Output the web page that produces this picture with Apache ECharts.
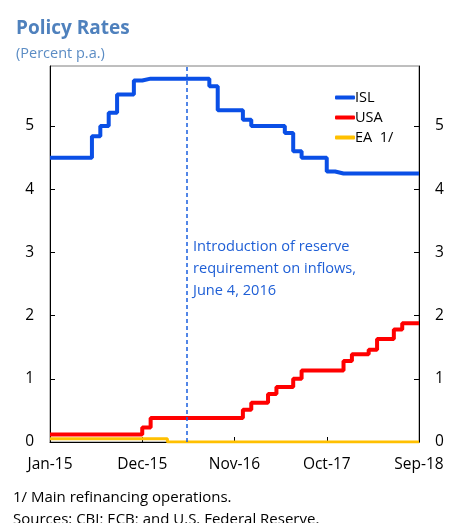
<!DOCTYPE html>
<html>
<head>
<meta charset="utf-8">
<script src="https://cdn.jsdelivr.net/npm/echarts@6/dist/echarts.min.js"></script>
<style>
  html, body { margin: 0; padding: 0; background: #fff; }
  #chart { width: 457px; height: 523px; }
</style>
</head>
<body>
<div id="chart"></div>
<script>
// month index 0 = Jan-15 ... 44 = Sep-18, monthly averages
const xLabels = ["Jan-15", "Dec-15", "Nov-16", "Oct-17", "Sep-18"];

const isl = [
  4.5, 4.5, 4.5, 4.5, 4.5, 4.84, 5.0, 5.21, 5.5, 5.5, 5.72,
  5.75, 5.75, 5.75, 5.75, 5.75, 5.75, 5.75, 5.75, 5.63, 5.25, 5.25, 5.25,
  5.1, 5.0, 5.0, 5.0, 5.0, 4.89, 4.6, 4.5, 4.5, 4.5, 4.28,
  4.25, 4.25, 4.25, 4.25, 4.25, 4.25, 4.25, 4.25, 4.25, 4.25, 4.25
];
const usa = [
  0.12, 0.12, 0.12, 0.12, 0.12, 0.12, 0.12, 0.12, 0.12, 0.12, 0.12,
  0.23, 0.38, 0.38, 0.38, 0.38, 0.38, 0.38, 0.38, 0.38, 0.38, 0.38, 0.38,
  0.51, 0.62, 0.62, 0.76, 0.87, 0.87, 1.0, 1.13, 1.13, 1.13, 1.13, 1.13,
  1.28, 1.39, 1.39, 1.46, 1.63, 1.63, 1.78, 1.88, 1.88, 1.88
];
const ea = [
  0.05, 0.05, 0.05, 0.05, 0.05, 0.05, 0.05, 0.05, 0.05, 0.05, 0.05, 0.05, 0.05, 0.05,
  0, 0, 0, 0, 0, 0, 0, 0, 0, 0, 0, 0, 0, 0, 0, 0, 0, 0, 0,
  0, 0, 0, 0, 0, 0, 0, 0, 0, 0, 0, 0
];
const reserveMonth = 16.3; // June 4, 2016 as drawn

const FONT = "Open Sans";
const myChart = echarts.init(document.getElementById("chart"));

function toPoints(arr) {
  return arr.map((v, i) => [i, v]);
}

const yAxisCommon = {
  type: "value",
  min: 0,
  max: 5.95,
  interval: 1,
  axisLine: { show: true, lineStyle: { color: "#000", width: 1 } },
  axisTick: { show: true, inside: true, length: 5, lineStyle: { color: "#000" } },
  axisLabel: { showMaxLabel: false, color: "#000", fontSize: 15.5, fontFamily: FONT, margin: 16 },
  splitLine: { show: false },
};

const option = {
  animation: false,
  textStyle: { fontFamily: FONT },
  title: [
    {
      text: "Policy Rates",
      left: 16,
      top: 19,
      padding: 0,
      textStyle: { fontSize: 19, fontWeight: "bold", color: "#4F81BD", fontFamily: FONT },
    },
    {
      text: "(Percent p.a.)",
      left: 16,
      top: 46,
      padding: 0,
      textStyle: { fontSize: 14.5, fontWeight: "normal", color: "#5B8CC4", fontFamily: FONT },
    },
    {
      text: "1/ Main refinancing operations.\nSources: CBI; ECB; and U.S. Federal Reserve.",
      left: 13,
      top: 487,
      padding: 0,
      textStyle: { fontSize: 15, fontWeight: "normal", color: "#000", fontFamily: FONT, lineHeight: 22 },
    },
  ],
  legend: {
    orient: "vertical",
    left: 330,
    top: 85,
    icon: "roundRect",
    itemWidth: 20,
    itemHeight: 4,
    itemGap: 5,
    textStyle: { fontSize: 14.5, color: "#000", fontFamily: FONT, padding: [0, 0, 0, -5] },
    data: ["ISL", "USA", "EA  1/"],
  },
  grid: {
    left: 50,
    right: 38,
    top: 66,
    bottom: 81,
    show: true,
    borderColor: "#7f7f7f",
    borderWidth: 1,
  },
  xAxis: {
    type: "value",
    min: 0,
    max: 44,
    interval: 11,
    axisLine: { show: true, onZero: false, lineStyle: { color: "#000", width: 1 } },
    axisTick: { show: true, inside: true, length: 5, lineStyle: { color: "#000" } },
    axisLabel: {
      color: "#000",
      fontSize: 15.5,
      fontFamily: FONT,
      margin: 15,
      formatter: (v) => xLabels[Math.round(v / 11)] || "",
    },
    splitLine: { show: false },
  },
  yAxis: [
    Object.assign({ position: "left" }, yAxisCommon),
    Object.assign({ position: "right" }, yAxisCommon),
  ],
  series: [
    {
      name: "ISL",
      type: "line",
      step: "end",
      showSymbol: false,
      color: "#0A4FE6",
      lineStyle: { width: 4, color: "#0A4FE6" },
      data: toPoints(isl),
    },
    {
      name: "USA",
      type: "line",
      step: "end",
      showSymbol: false,
      color: "#FF0000",
      lineStyle: { width: 4, color: "#FF0000" },
      data: toPoints(usa),
    },
    {
      name: "EA  1/",
      type: "line",
      step: "end",
      showSymbol: false,
      color: "#FFC000",
      lineStyle: { width: 3, color: "#FFC000" },
      data: toPoints(ea),
      markLine: {
        silent: true,
        symbol: "none",
        label: { show: false },
        lineStyle: { type: [4, 3], color: "#1A5FE0", width: 1.5 },
        data: [{ xAxis: reserveMonth }],
      },
    },
  ],
  graphic: [
    {
      type: "text",
      left: 193,
      top: 236,
      style: {
        text: "Introduction of reserve\nrequirement on inflows,\nJune 4, 2016",
        fontSize: 14.6,
        lineHeight: 22,
        fontFamily: FONT,
        fill: "#1F5FD6",
      },
    },
  ],
};

myChart.setOption(option);
</script>
</body>
</html>
